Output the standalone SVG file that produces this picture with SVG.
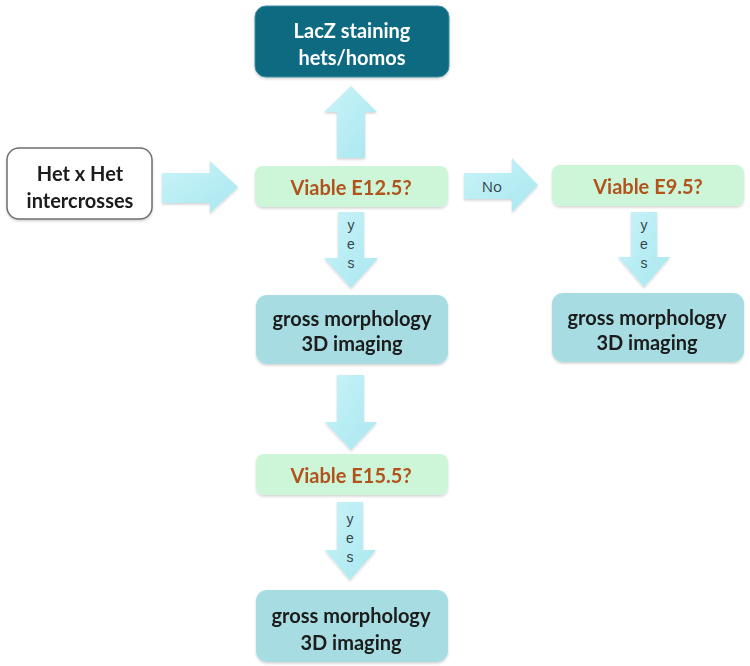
<svg xmlns="http://www.w3.org/2000/svg" width="750" height="666" viewBox="0 0 750 666">
  <defs>
    <linearGradient id="arrowGrad" x1="0" y1="0" x2="1" y2="1">
      <stop offset="0" stop-color="#c9f3f8"/>
      <stop offset="1" stop-color="#a9e7f0"/>
    </linearGradient>
    <filter id="shadow" x="-10%" y="-10%" width="120%" height="130%">
      <feDropShadow dx="0" dy="1.5" stdDeviation="1.2" flood-color="#000" flood-opacity="0.18"/>
    </filter>
    <style>
      .arrow { fill: url(#arrowGrad); filter: url(#shadow); }
      .box { filter: url(#shadow); }
      .dark { fill: #0f6a80; stroke: #3e8fa2; stroke-width: 1; }
      .white { fill: #ffffff; stroke: #6f6f6f; stroke-width: 1.5; }
      .green { fill: #cdf6d8; }
      .teal { fill: #a7dde2; }
      .t { font-family: Lato, "Open Sans", "Liberation Sans", sans-serif; font-weight: 700; font-size: 20px; text-anchor: middle; dominant-baseline: central; }
      .tw { fill: #ffffff; }
      .tb { fill: #1a1a1a; }
      .tq { fill: #b2531d; }
      .lbl { font-family: "Open Sans", "Liberation Sans", sans-serif; font-size: 15px; fill: #354548; text-anchor: middle; dominant-baseline: central; }
      .yes { font-family: "Liberation Sans", "Open Sans", sans-serif; font-size: 14px; fill: #354548; text-anchor: middle; dominant-baseline: central; }
    </style>
  </defs>

  <g id="connectors">
    <polygon class="arrow" points="337,158 365,158 365,112 377,112 351,86 324,112 337,112"/>
    <polygon class="arrow" points="162,173 210,173 210,161 238,187 210,213 210,203 162,203"/>
    <polygon class="arrow" points="464,173 512,173 512,158 538,185 512,212 512,199 464,199"/>
    <text class="lbl" x="492" y="186">No</text>
    <polygon class="arrow" points="338,212 364,212 364,258 378,258 351,288 324,258 338,258"/>
    <text class="yes" x="351" y="225">y</text>
    <text class="yes" x="351" y="244">e</text>
    <text class="yes" x="351" y="263">s</text>
    <polygon class="arrow" points="631,212 657,212 657,257 670,257 644,287 618,257 631,257"/>
    <text class="yes" x="644" y="225">y</text>
    <text class="yes" x="644" y="244">e</text>
    <text class="yes" x="644" y="263">s</text>
    <polygon class="arrow" points="337,375 364,375 364,422 377,422 351,450 325,422 337,422"/>
    <polygon class="arrow" points="337,502 363,502 363,550 376,550 350,580 325,550 337,550"/>
    <text class="yes" x="350" y="519">y</text>
    <text class="yes" x="350" y="538">e</text>
    <text class="yes" x="350" y="557">s</text>
  </g>

  <g id="lacz" class="box">
    <rect class="dark" x="255" y="6" width="194" height="71" rx="11"/>
    <text class="t tw" x="352" y="30">LacZ staining</text>
    <text class="t tw" x="352" y="57">hets/homos</text>
  </g>

  <g id="hetxhet" class="box">
    <rect class="white" x="7" y="148" width="145" height="71" rx="12"/>
    <text class="t tb" x="80" y="173">Het x Het</text>
    <text class="t tb" x="80" y="200">intercrosses</text>
  </g>

  <g id="viable125" class="box">
    <rect class="green" x="255" y="166" width="193" height="41" rx="8"/>
    <text class="t tq" x="351" y="187">Viable E12.5?</text>
  </g>

  <g id="viable95" class="box">
    <rect class="green" x="552" y="165" width="192" height="41" rx="8"/>
    <text class="t tq" x="648" y="186">Viable E9.5?</text>
  </g>

  <g id="gross1" class="box">
    <rect class="teal" x="256" y="295" width="192" height="69" rx="11"/>
    <text class="t tb" x="352" y="318">gross morphology</text>
    <text class="t tb" x="352" y="343">3D imaging</text>
  </g>

  <g id="gross2" class="box">
    <rect class="teal" x="552" y="293" width="192" height="69" rx="11"/>
    <text class="t tb" x="647" y="317">gross morphology</text>
    <text class="t tb" x="647" y="342">3D imaging</text>
  </g>

  <g id="viable155" class="box">
    <rect class="green" x="256" y="454" width="192" height="41" rx="8"/>
    <text class="t tq" x="351" y="475">Viable E15.5?</text>
  </g>

  <g id="gross3" class="box">
    <rect class="teal" x="256" y="590" width="192" height="72" rx="11"/>
    <text class="t tb" x="351" y="615">gross morphology</text>
    <text class="t tb" x="351" y="642">3D imaging</text>
  </g>
</svg>
